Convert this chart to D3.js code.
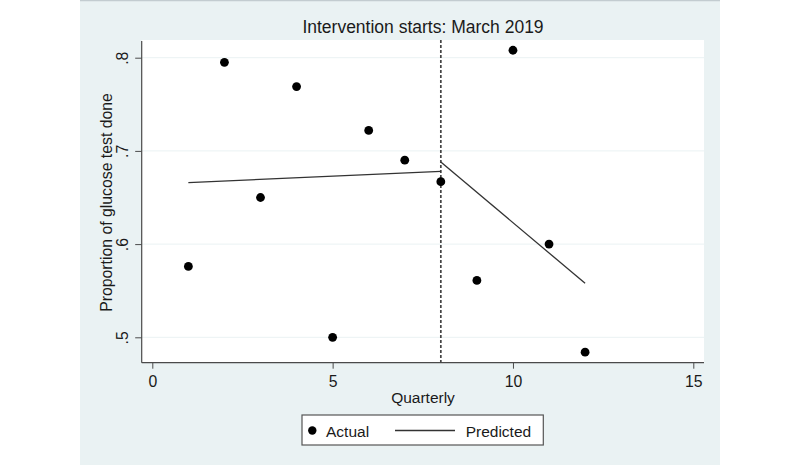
<!DOCTYPE html>
<html>
<head>
<meta charset="utf-8">
<style>
  body { margin: 0; background: #fff; }
  svg text { font-family: "Liberation Sans", Arial, sans-serif; fill: #1a1a1a; }
</style>
</head>
<body>
<script src="https://d3js.org/d3.v7.min.js"></script>
<script>
// data
var quarters = [1, 2, 3, 4, 5, 6, 7, 8, 9, 10, 11, 12]
var actual = [0.576, 0.795, 0.650, 0.769, 0.500, 0.722, 0.690, 0.667, 0.561, 0.808, 0.600, 0.484]
// predicted segments (before / after intervention)
var preQuarters = [1, 8]
var prePredicted = [0.666, 0.678]
var postQuarters = [8, 12]
var postPredicted = [0.688, 0.558]
var interventionQuarter = 8

var xTicks = [0, 5, 10, 15]
var yTicks = [0.5, 0.6, 0.7, 0.8]
var yTickLabels = ['.5', '.6', '.7', '.8']

var titleText = 'Intervention starts: March 2019'
var xLabel = 'Quarterly'
var yLabel = 'Proportion of glucose test done'
var legendLabels = ['Actual', 'Predicted']

// window
var svgWidth = 800
var svgHeight = 465
// plot region
var plotLeft = 141.7, plotRight = 704, plotTop = 40, plotBottom = 362.7

var svg = d3.select('body').append('svg')
	.attr('width', svgWidth)
	.attr('height', svgHeight)

// outer graph region
svg.append('rect')
	.attr('x', 80).attr('y', 0)
	.attr('width', 640).attr('height', svgHeight)
	.attr('fill', '#eaf2f3')
svg.append('line')
	.attr('x1', 80).attr('x2', 720)
	.attr('y1', 0.5).attr('y2', 0.5)
	.attr('stroke', '#c3ccd0')
	.attr('stroke-width', 1.5)

// plot region
svg.append('rect')
	.attr('x', plotLeft).attr('y', plotTop)
	.attr('width', plotRight - plotLeft).attr('height', plotBottom - plotTop)
	.attr('fill', '#ffffff')

var x = d3.scaleLinear().domain([0, 15]).range([152.3, 693.3])
var y = d3.scaleLinear().domain([0.5, 0.8]).range([337.3, 57.7])

// gridlines
svg.selectAll('.grid')
	.data(yTicks)
	.enter().append('line')
	.attr('class', 'grid')
	.attr('x1', plotLeft).attr('x2', plotRight)
	.attr('y1', function(d){ return y(d) })
	.attr('y2', function(d){ return y(d) })
	.attr('stroke', '#eaf2f3')
	.attr('stroke-width', 1)

// x axis
var xAxis = svg.append('g')
	.attr('transform', 'translate(0,' + plotBottom + ')')
	.call(d3.axisBottom(x).tickValues(xTicks).tickSize(6).tickSizeOuter(0).tickPadding(8))
xAxis.select('.domain').remove()
xAxis.selectAll('line').attr('stroke', '#4a4a4a')
xAxis.selectAll('text')
	.attr('font-size', '15.8px')
	.attr('fill', '#1a1a1a')
	.attr('dy', '0.71em')
	.attr('y', 13.4)

// y axis
var yAxis = svg.append('g')
	.attr('transform', 'translate(' + plotLeft + ',0)')
	.call(d3.axisLeft(y).tickValues(yTicks).tickSize(6.5).tickSizeOuter(0)
		.tickFormat(function(d, i){ return yTickLabels[i] }))
yAxis.select('.domain').remove()
yAxis.selectAll('line').attr('stroke', '#4a4a4a')
yAxis.selectAll('text')
	.attr('font-size', '15.8px')
	.attr('fill', '#1a1a1a')
	.attr('text-anchor', 'middle')
	.attr('transform', 'rotate(-90)')
	.attr('x', 0)
	.attr('y', -13.7)
	.attr('dy', 0)

// axis lines
svg.append('line')
	.attr('x1', plotLeft).attr('x2', plotRight)
	.attr('y1', plotBottom).attr('y2', plotBottom)
	.attr('stroke', '#4a4a4a').attr('stroke-width', 1.2)
svg.append('line')
	.attr('x1', plotLeft).attr('x2', plotLeft)
	.attr('y1', plotTop + 1).attr('y2', plotBottom)
	.attr('stroke', '#4a4a4a').attr('stroke-width', 1.2)

// intervention line
svg.append('line')
	.attr('x1', x(interventionQuarter)).attr('x2', x(interventionQuarter))
	.attr('y1', plotTop).attr('y2', plotBottom)
	.attr('stroke', '#444')
	.attr('stroke-width', 1.7)
	.attr('stroke-dasharray', '3,2')

// predicted lines
var line = d3.line()
	.x(function(d){ return x(d[0]) })
	.y(function(d){ return y(d[1]) })
svg.selectAll('.pred')
	.data([d3.zip(preQuarters, prePredicted), d3.zip(postQuarters, postPredicted)])
	.enter().append('path')
	.attr('class', 'pred')
	.attr('d', line)
	.attr('fill', 'none')
	.attr('stroke', '#333')
	.attr('stroke-width', 1.3)

// actual points
svg.selectAll('.pt')
	.data(d3.zip(quarters, actual))
	.enter().append('circle')
	.attr('class', 'pt')
	.attr('cx', function(d){ return x(d[0]) })
	.attr('cy', function(d){ return y(d[1]) })
	.attr('r', 4.4)
	.attr('fill', '#000')

// titles
svg.append('text')
	.attr('x', 423).attr('y', 33)
	.attr('text-anchor', 'middle')
	.attr('font-size', '17.5px')
	.text(titleText)
svg.append('text')
	.attr('x', 423).attr('y', 403.3)
	.attr('text-anchor', 'middle')
	.attr('font-size', '15.5px')
	.text(xLabel)
svg.append('text')
	.attr('transform', 'translate(111.5,' + 202.5 + ') rotate(-90)')
	.attr('text-anchor', 'middle')
	.attr('font-size', '15.8px')
	.text(yLabel)

// legend
var legend = svg.append('g')
legend.append('rect')
	.attr('x', 302).attr('y', 415)
	.attr('width', 241.3).attr('height', 30)
	.attr('fill', '#fff')
	.attr('stroke', '#555')
	.attr('stroke-width', 1.2)
legend.append('circle')
	.attr('cx', 312.3).attr('cy', 430.5)
	.attr('r', 4.2)
	.attr('fill', '#000')
legend.append('text')
	.attr('x', 326).attr('y', 436.5)
	.attr('font-size', '15.5px')
	.text(legendLabels[0])
legend.append('line')
	.attr('x1', 395).attr('x2', 455)
	.attr('y1', 430.5).attr('y2', 430.5)
	.attr('stroke', '#333')
	.attr('stroke-width', 1.3)
legend.append('text')
	.attr('x', 465.7).attr('y', 436.5)
	.attr('font-size', '15.5px')
	.text(legendLabels[1])
</script>
</body>
</html>
